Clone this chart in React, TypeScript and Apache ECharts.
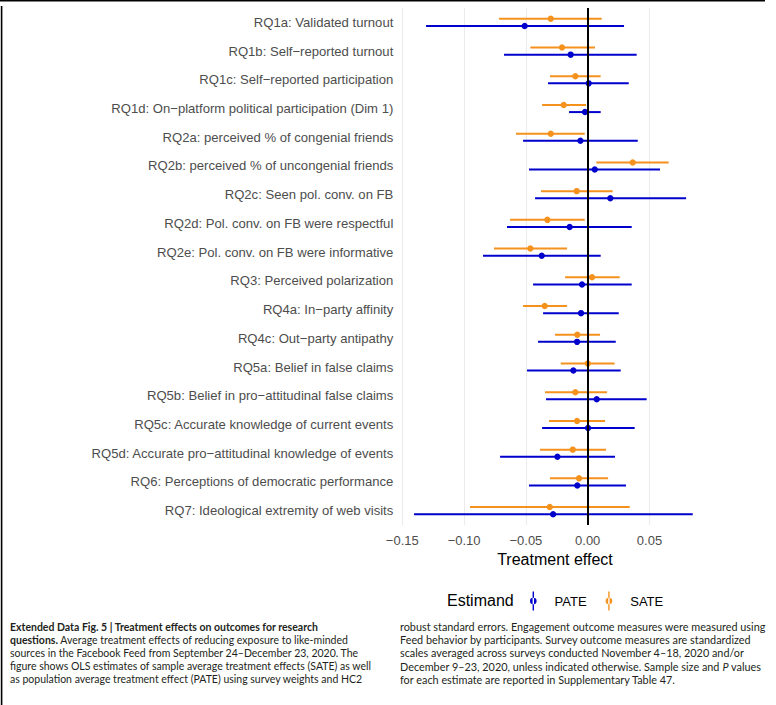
import React, { useEffect, useRef } from "react";
import * as echarts from "echarts";

const categories = [
  "RQ1a: Validated turnout",
  "RQ1b: Self−reported turnout",
  "RQ1c: Self−reported participation",
  "RQ1d: On−platform political participation (Dim 1)",
  "RQ2a: perceived % of congenial friends",
  "RQ2b: perceived % of uncongenial friends",
  "RQ2c: Seen pol. conv. on FB",
  "RQ2d: Pol. conv. on FB were respectful",
  "RQ2e: Pol. conv. on FB were informative",
  "RQ3: Perceived polarization",
  "RQ4a: In−party affinity",
  "RQ4c: Out−party antipathy",
  "RQ5a: Belief in false claims",
  "RQ5b: Belief in pro−attitudinal false claims",
  "RQ5c: Accurate knowledge of current events",
  "RQ5d: Accurate pro−attitudinal knowledge of events",
  "RQ6: Perceptions of democratic performance",
  "RQ7: Ideological extremity of web visits",
];

const pateEst = [-0.051, -0.0138, 0.0008, -0.0022, -0.0059, 0.0057, 0.0183, -0.0146, -0.0372, -0.0046, -0.0054, -0.0086, -0.0116, 0.0073, 0.0003, -0.0245, -0.0084, -0.028];
const pateLow = [-0.1308, -0.0677, -0.0321, -0.0151, -0.0523, -0.0475, -0.0426, -0.0653, -0.0847, -0.0442, -0.0361, -0.0402, -0.0491, -0.0337, -0.0369, -0.0709, -0.0475, -0.1405];
const pateHigh = [0.0294, 0.0396, 0.0332, 0.0105, 0.0405, 0.0585, 0.0796, 0.0356, 0.0105, 0.0356, 0.0251, 0.0227, 0.0267, 0.0477, 0.038, 0.0221, 0.031, 0.085];

const sateEst = [-0.0299, -0.0208, -0.01, -0.0194, -0.0299, 0.0364, -0.0089, -0.0326, -0.0464, 0.0035, -0.0348, -0.0084, 0.0, -0.01, -0.0086, -0.0121, -0.007, -0.0307];
const sateLow = [-0.0717, -0.0464, -0.0305, -0.0369, -0.058, 0.007, -0.0378, -0.0628, -0.0758, -0.0183, -0.0523, -0.0264, -0.0218, -0.0345, -0.0313, -0.0386, -0.0305, -0.0952];
const sateHigh = [0.0113, 0.0059, 0.0105, -0.0013, -0.0024, 0.0655, 0.0202, -0.0024, -0.0167, 0.0259, -0.0167, 0.01, 0.0218, 0.0156, 0.014, 0.0148, 0.0165, 0.034];

const xTicks = { min: -0.15, max: 0.097, interval: 0.05 };

const captionLeft = [
  "{b|Extended Data Fig. 5 | Treatment effects on outcomes for research}",
  "{b|questions.} Average treatment effects of reducing exposure to like-minded",
  "sources in the Facebook Feed from September 24–December 23, 2020. The",
  "figure shows OLS estimates of sample average treatment effects (SATE) as well",
  "as population average treatment effect (PATE) using survey weights and HC2",
];
const captionRight = [
  "robust standard errors. Engagement outcome measures were measured using",
  "Feed behavior by participants. Survey outcome measures are standardized",
  "scales averaged across surveys conducted November 4–18, 2020 and/or",
  "December 9–23, 2020, unless indicated otherwise. Sample size and {i|P} values",
  "for each estimate are reported in Supplementary Table 47.",
];

const BLUE = "#0000CD";
const ORANGE = "#F5921E";
const FONT = "Liberation Sans";

function makeRender(color: string, dir: number) {
  return (params: any, api: any) => {
    const cat = api.value(3);
    const p0 = api.coord([api.value(0), cat]);
    const p1 = api.coord([api.value(1), cat]);
    const p2 = api.coord([api.value(2), cat]);
    const off = api.size([0, 1])[1] * 0.124 * dir;
    const y = p1[1] + off;
    return {
      type: "group",
      children: [
        {
          type: "line",
          shape: { x1: p0[0], y1: y, x2: p2[0], y2: y },
          style: { stroke: color, lineWidth: 2 },
        },
        {
          type: "circle",
          shape: { cx: p1[0], cy: y, r: 3.2 },
          style: { fill: color },
        },
      ],
    };
  };
}

const fmt = (v: number) => (v < 0 ? "−" + Math.abs(v).toFixed(2) : v.toFixed(2));

export default function App() {
  const ref = useRef<HTMLDivElement>(null);
  useEffect(() => {
    if (!ref.current) return;
    const chart = echarts.init(ref.current, null, { renderer: "svg" });
    const pateData = categories.map((_, i) => [pateLow[i], pateEst[i], pateHigh[i], i]);
    const sateData = categories.map((_, i) => [sateLow[i], sateEst[i], sateHigh[i], i]);
    const iconPath = "path://M2.6,0 L4.0,0 L4.0,19 L2.6,19 Z M0,9.5 A3.3,3.3 0 1,0 6.6,9.5 A3.3,3.3 0 1,0 0,9.5 Z";

    const captionEls: any[] = [];
    captionLeft.forEach((t, i) => {
      captionEls.push({
        type: "text",
        left: 10,
        top: 621 + i * 13.2,
        style: {
          text: t,
          fontFamily: "Lato",
          fontSize: 10.5,
          fill: "#231F20",
          rich: { b: { fontWeight: "bold", fontFamily: "Lato", fontSize: 10.5, fill: "#231F20" } },
        },
      });
    });
    captionRight.forEach((t, i) => {
      captionEls.push({
        type: "text",
        left: 400,
        top: 621 + i * 13.2,
        style: {
          text: t,
          fontFamily: "Lato",
          fontSize: 10.85,
          fill: "#231F20",
          rich: { i: { fontStyle: "italic", fontFamily: "Lato", fontSize: 10.85, fill: "#231F20" } },
        },
      });
    });

    chart.setOption({
      animation: false,
      backgroundColor: "#ffffff",
      textStyle: { fontFamily: FONT },
      grid: { left: 402.3, right: 68.4, top: 8, bottom: 180, containLabel: false },
      xAxis: {
        type: "value",
        min: xTicks.min,
        max: xTicks.max,
        interval: xTicks.interval,
        name: "Treatment effect",
        nameLocation: "middle",
        nameGap: 24,
        nameTextStyle: { fontFamily: FONT, fontSize: 16, color: "#000" },
        axisLine: { show: false },
        axisTick: { show: false },
        axisLabel: {
          formatter: fmt,
          showMaxLabel: false,
          margin: 9,
          fontFamily: FONT,
          fontSize: 13,
          color: "#4D4D4D",
        },
        splitLine: { show: true, showMaxLine: false, lineStyle: { color: "#EBEBEB", width: 1.1 } },
      },
      yAxis: {
        type: "category",
        data: categories,
        inverse: true,
        axisLine: { show: false },
        axisTick: { show: false },
        splitLine: { show: false },
        axisLabel: { interval: 0, margin: 9, fontFamily: FONT, fontSize: 13.1, color: "#4D4D4D" },
      },
      legend: {
        data: ["PATE", "SATE"],
        left: 530,
        top: 591.5,
        padding: 0,
        orient: "horizontal",
        icon: iconPath,
        itemWidth: 6.6,
        itemHeight: 19,
        itemGap: 19,
        textStyle: { fontFamily: FONT, fontSize: 13, color: "#000", padding: [0, 0, 0, 13] },
      },
      graphic: [
        {
          type: "text",
          left: 447,
          top: 592,
          style: { text: "Estimand", fontFamily: FONT, fontSize: 16, fill: "#000" },
        },
        { type: "line", shape: { x1: 0, y1: 0.75, x2: 765, y2: 0.75 }, style: { stroke: "#000", lineWidth: 1.6 } },
        { type: "line", shape: { x1: 1.6, y1: 6, x2: 1.6, y2: 705 }, style: { stroke: "#000", lineWidth: 1.6 } },
        ...captionEls,
      ],
      series: [
        {
          type: "line",
          name: "zero",
          data: [],
          z: 1,
          silent: true,
          markLine: {
            silent: true,
            symbol: "none",
            label: { show: false },
            lineStyle: { color: "#000", width: 2, type: "solid" },
            data: [{ xAxis: 0 }],
          },
        },
        {
          type: "custom",
          name: "SATE",
          z: 3,
          itemStyle: { color: ORANGE },
          renderItem: makeRender(ORANGE, -1),
          encode: { x: [0, 1, 2], y: 3 },
          data: sateData,
        },
        {
          type: "custom",
          name: "PATE",
          z: 4,
          itemStyle: { color: BLUE },
          renderItem: makeRender(BLUE, 1),
          encode: { x: [0, 1, 2], y: 3 },
          data: pateData,
        },
      ],
    });
    return () => chart.dispose();
  }, []);
  return (
    <div
      ref={ref}
      style={{ position: "absolute", left: 0, top: 0, width: 776, height: 705, background: "#fff" }}
    />
  );
}
